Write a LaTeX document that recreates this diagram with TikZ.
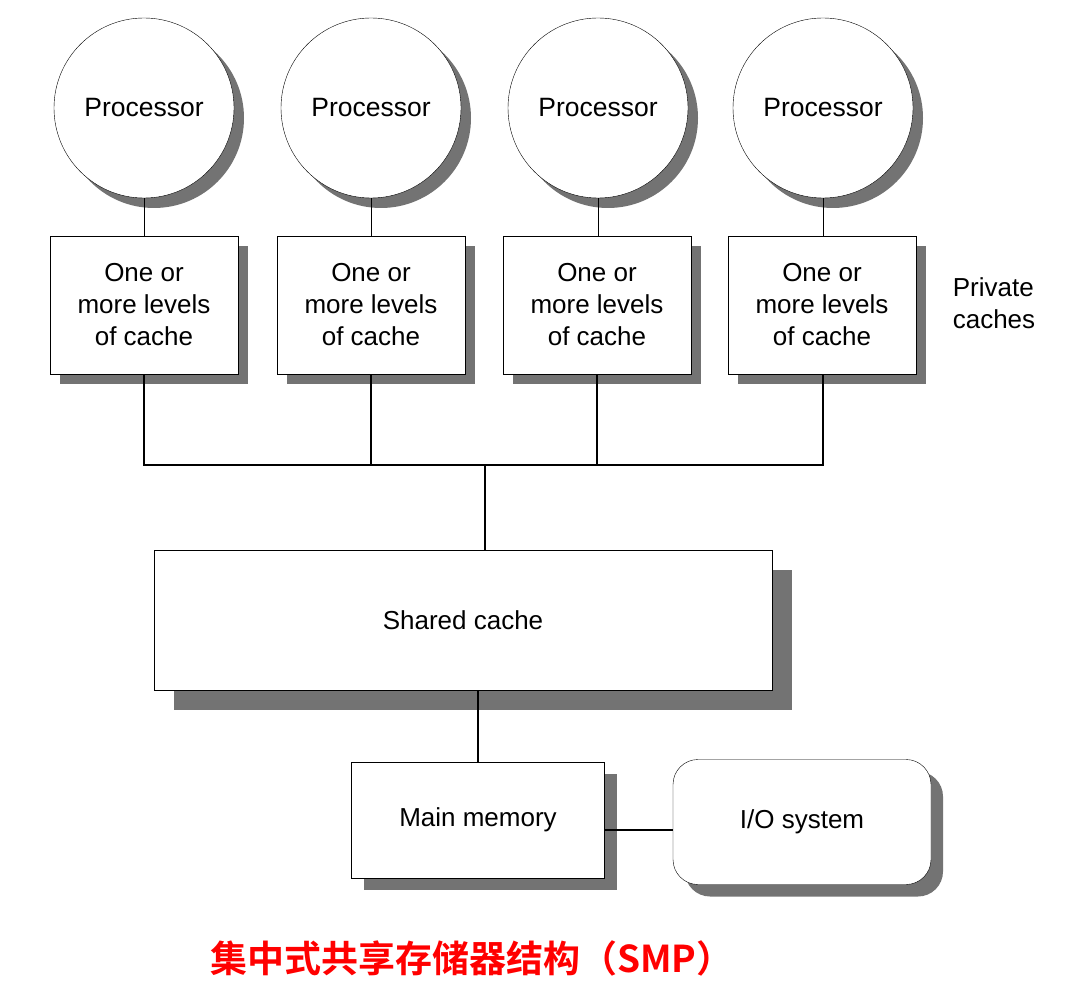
\documentclass[tikz,border=0pt]{standalone}
\usetikzlibrary{shadows}
\usepackage{fontspec}
\setmainfont{Liberation Sans}
\newfontfamily\cjk{Noto Sans CJK SC}[BoldFont=* Bold]
\begin{document}
\begin{tikzpicture}[x=1pt,y=-1pt,
 sh/.style={drop shadow={shadow xshift=#1pt,shadow yshift=-#1pt,fill=black!55,opacity=1}},
 proc/.style={circle,draw,fill=white,minimum size=180pt,inner sep=0,font=\fontsize{26.5}{30}\selectfont,sh=10},
 box/.style={draw,fill=white,align=center,font=\fontsize{26}{32}\selectfont,inner sep=0},
 wire/.style={line width=2.4pt}]
\useasboundingbox (0,0) rectangle (1076,1000);
\foreach \i/\x in {1/144,2/371,3/598,4/823}{
 \node[proc] (p\i) at (\x,108) {Processor};
}
\foreach \i/\x in {1/144,2/371,3/597,4/822}{
 \node[box,minimum width=188pt,minimum height=138pt,sh=10] (c\i) at (\x,305) {One or\\more levels\\of cache};
 \draw (p\i.south) -- (p\i.south |- c\i.north);
}
\node[box,minimum width=618pt,minimum height=140pt,sh=20] (sc) at (463,620) {Shared cache};
\node[box,minimum width=253pt,minimum height=116pt,sh=12] (mm) at (478,820) {Main memory};
\node[box,rounded corners=25pt,minimum width=258pt,minimum height=125pt,sh=12] (io) at (802,822) {I/O system};
\node[align=left,font=\fontsize{26}{32}\selectfont] (pc) at (994,303) {Private\\caches};
\coordinate (bl) at (143,465); \coordinate (br) at (823,465); \coordinate (bm) at (485,465);
\draw[wire] (c1.south) |- (bl) -- (br) -- (br |- c4.south);
\draw[wire] (c2.south) -- (c2.south |- bl);
\draw[wire] (c3.south) -- (c3.south |- bl);
\draw[wire] (bm) -- (bm |- sc.north);
\draw[wire] (mm.north |- sc.south) -- (mm.north);
\draw[wire] (mm.east |- 0,830) -- (io.west |- 0,830);
\node[text=red,font=\cjk\bfseries\fontsize{37}{44}\selectfont] (t) at (472,958) {集中式共享存储器结构（SMP）};
\end{tikzpicture}
\end{document}
